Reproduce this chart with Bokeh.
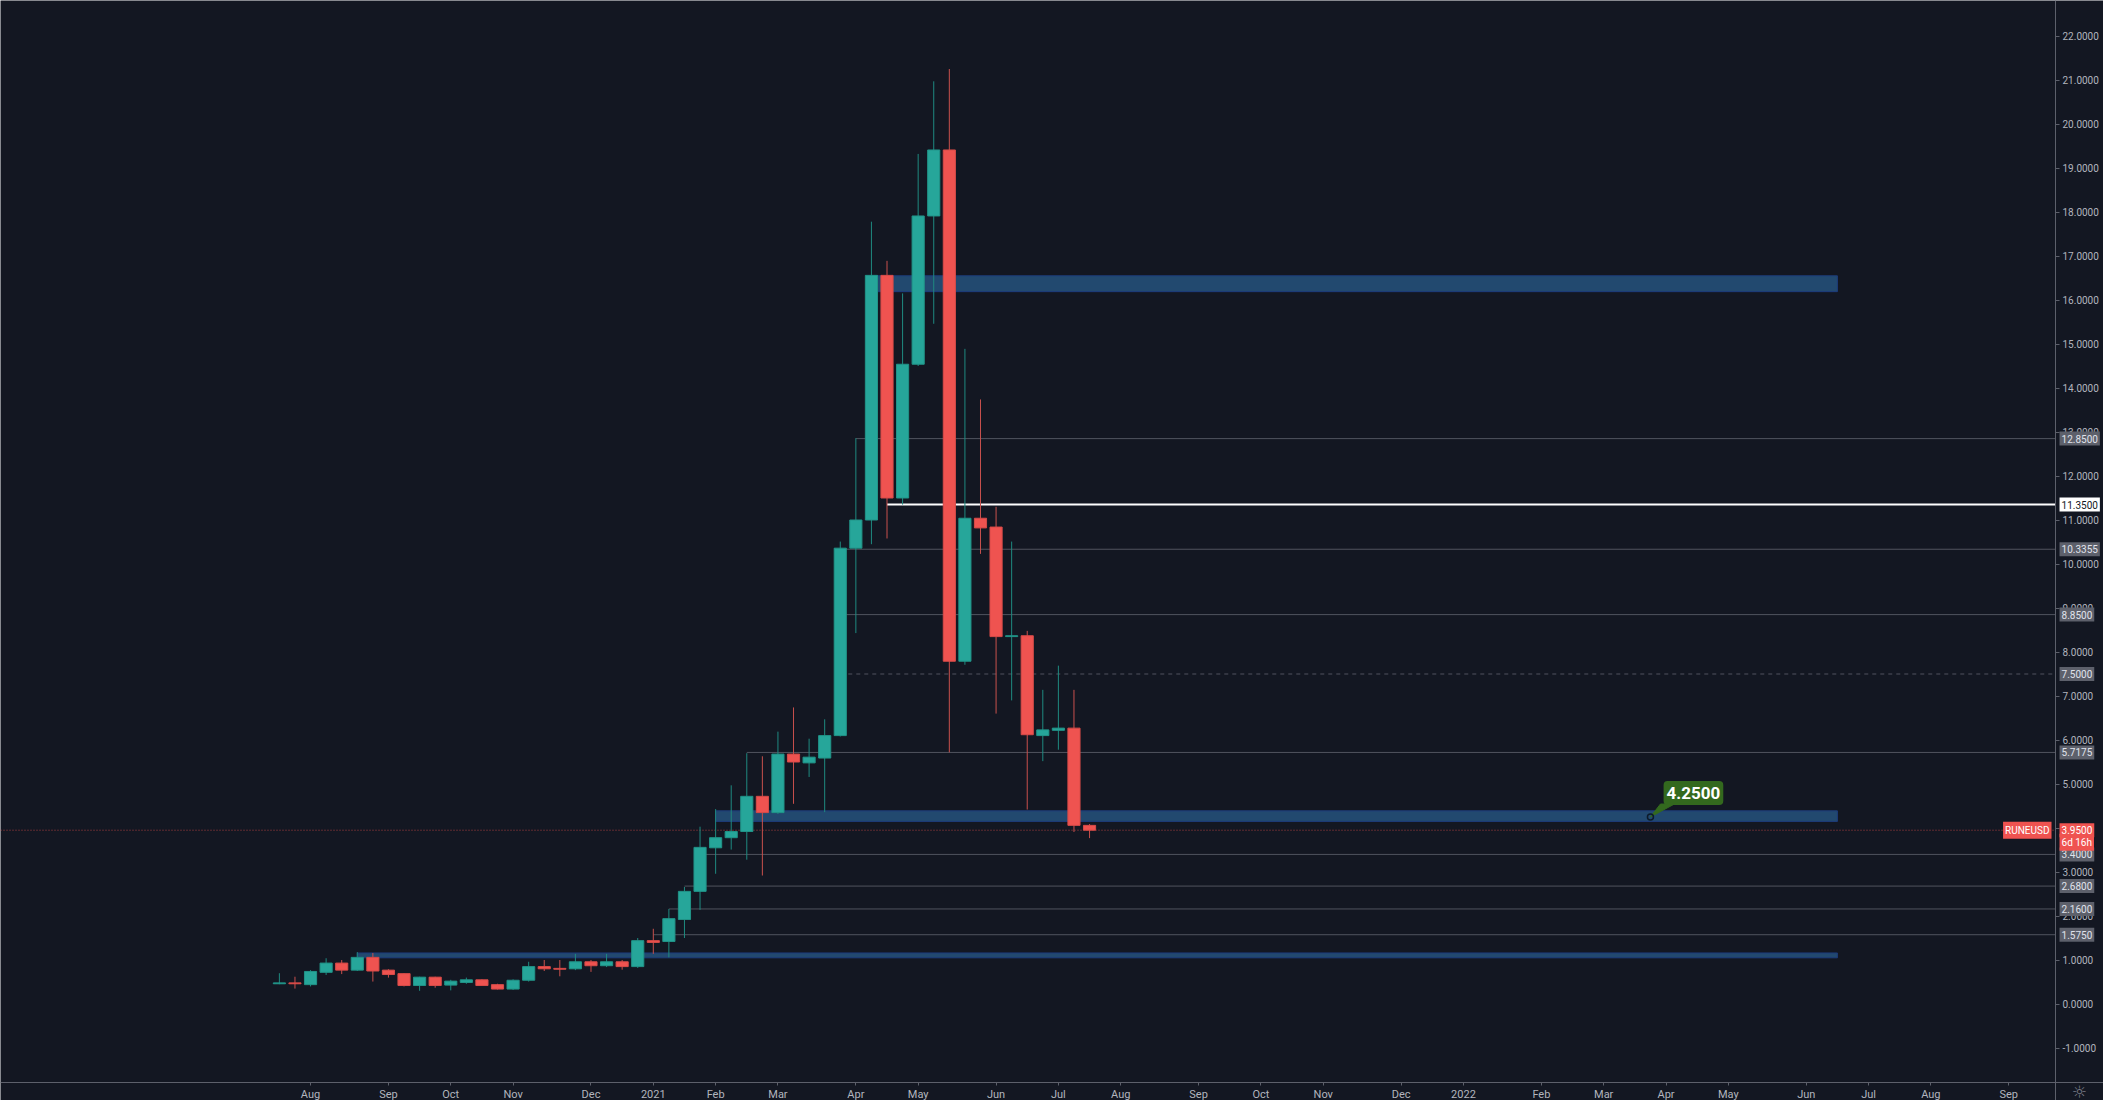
import pandas as pd
from bokeh.plotting import figure
from bokeh.models import (ColumnDataSource, FixedTicker, NumeralTickFormatter, Label, Range1d,
                          LinearAxis)
from bokeh.embed import file_html
from bokeh.resources import INLINE

# ---------------- data ----------------
first_week = "2020-07-20"
opens = [0.46, 0.48, 0.44, 0.72, 0.93, 0.77, 1.06, 0.77, 0.69, 0.42, 0.61, 0.43, 0.49, 0.55, 0.44,
         0.34, 0.54, 0.85, 0.81, 0.80, 0.96, 0.87, 0.96, 0.85, 1.44, 1.42, 1.92, 2.56, 3.55, 3.78,
         3.92, 4.72, 4.35, 5.68, 5.48, 5.59, 6.10, 10.36, 11.00, 16.56, 11.50, 14.54, 17.91, 19.41,
         7.79, 11.04, 10.84, 8.35, 8.37, 6.10, 6.22, 6.27, 4.06]
highs = [0.70, 0.62, 0.77, 1.04, 1.00, 1.18, 1.16, 0.79, 0.70, 0.62, 0.62, 0.55, 0.60, 0.56, 0.46,
         0.56, 0.96, 1.00, 1.00, 1.14, 1.00, 1.14, 1.00, 1.50, 1.71, 2.16, 2.66, 4.03, 4.43, 4.97,
         5.70, 5.63, 6.19, 6.74, 6.03, 6.47, 10.51, 12.86, 17.78, 16.89, 16.15, 19.32, 20.97, 21.25,
         14.89, 13.74, 11.30, 10.51, 8.48, 7.14, 7.69, 7.14, 4.09]
lows = [0.45, 0.35, 0.40, 0.66, 0.68, 0.75, 0.51, 0.60, 0.40, 0.30, 0.37, 0.31, 0.46, 0.41, 0.33,
        0.32, 0.51, 0.75, 0.63, 0.77, 0.73, 0.84, 0.78, 0.82, 1.14, 1.06, 1.50, 2.14, 2.96, 3.51,
        3.28, 2.92, 4.32, 4.55, 5.16, 4.36, 6.08, 8.43, 10.45, 10.58, 11.35, 14.50, 15.46, 5.72,
        7.71, 10.23, 6.60, 6.90, 4.42, 5.52, 5.78, 3.91, 3.77]
closes = [0.48, 0.46, 0.74, 0.93, 0.77, 1.06, 0.75, 0.67, 0.42, 0.61, 0.42, 0.52, 0.55, 0.42, 0.34,
          0.54, 0.85, 0.80, 0.79, 0.96, 0.87, 0.96, 0.85, 1.44, 1.40, 1.94, 2.56, 3.56, 3.78, 3.92,
          4.72, 4.35, 5.68, 5.50, 5.61, 6.10, 10.36, 11.00, 16.56, 11.50, 14.54, 17.91, 19.41, 7.79,
          11.04, 10.82, 8.35, 8.37, 6.12, 6.23, 6.27, 4.06, 3.95]

# horizontal levels (price, start date)
level_prices = [12.85, 10.3355, 8.85, 5.7175, 3.40, 2.68, 2.16, 1.575]
level_starts = ["2021-04-05", "2021-03-29", "2021-03-29", "2021-02-15",
                "2021-01-25", "2021-01-18", "2021-01-11", "2021-01-04"]
key_level_price = 11.35
key_level_start = "2021-04-19"
dashed_level_price = 7.50
dashed_level_start = "2021-03-29"

# zones
zone_bottoms = [16.19, 4.15, 1.05]
zone_tops = [16.55, 4.39, 1.16]
zone_starts = ["2021-04-12", "2021-02-01", "2020-08-24"]
zone_end = "2022-06-20"

# current price / symbol
symbol = "RUNEUSD"
last_price = 3.95
bar_timer = "6d 16h"

# callout
callout_price = 4.25
callout_date = "2022-03-28"

# x-axis tick labels (first weekly bar of each month)
tick_months = pd.date_range("2020-08-01", "2022-09-01", freq="MS")
tick_labels = ["Aug", "Sep", "Oct", "Nov", "Dec", "2021", "Feb", "Mar", "Apr", "May", "Jun", "Jul",
               "Aug", "Sep", "Oct", "Nov", "Dec", "2022", "Feb", "Mar", "Apr", "May", "Jun", "Jul",
               "Aug", "Sep"]
y_ticks = list(range(-1, 23))

# ---------------- helpers ----------------
t0 = pd.Timestamp(first_week)


def widx(d):
    return (pd.Timestamp(d) - t0).days / 7.0


BG = "#131722"
UP, DOWN = "#26a69a", "#ef5350"
UP_WICK, DOWN_WICK = "#1f8a80", "#c9504d"
UP_EDGE, DOWN_EDGE = "#219488", "#d84b48"
GRAY_TXT = "#b2b5be"
AXIS = "#5d606b"

W, H = 2103, 1100
X0, X1 = -17.9, 117.08        # full canvas width
XS = 114.0                    # price scale position
Y0, Y1 = -2.193, 22.807       # full canvas height
YS = -1.784                   # time scale position

p = figure(width=W, height=H, x_range=Range1d(X0, X1), y_range=Range1d(Y0, Y1),
           y_axis_location=None, output_backend="svg", toolbar_location=None,
           background_fill_color=BG, border_fill_color=BG,
           min_border_left=0, min_border_top=0, min_border_right=0, min_border_bottom=0)
p.outline_line_color = None
p.grid.visible = False

# zones
p.quad(left=[widx(d) for d in zone_starts], right=[widx(zone_end)] * len(zone_starts),
       bottom=zone_bottoms, top=zone_tops, fill_color="#22496f", line_color="#1d3c7c", line_width=1)

# levels
lx = [widx(d) for d in level_starts]
p.segment(x0=lx, x1=[XS] * len(lx), y0=level_prices, y1=level_prices,
          line_color="#50535e", line_width=1)
p.segment(x0=[widx(dashed_level_start)], x1=[XS], y0=[dashed_level_price], y1=[dashed_level_price],
          line_color="#50535e", line_width=1, line_dash="4 4")
p.segment(x0=[widx(key_level_start)], x1=[XS], y0=[key_level_price], y1=[key_level_price],
          line_color="#ffffff", line_width=2)

# current price line
p.segment(x0=[X0], x1=[XS], y0=[last_price], y1=[last_price], line_color=DOWN, line_alpha=0.7,
          line_width=1, line_dash="1 2")

# candles
xs = [float(i) for i in range(len(opens))]
up = [c >= o for o, c in zip(opens, closes)]
src = ColumnDataSource(dict(
    x=xs, high=highs, low=lows,
    top=[max(o, c) for o, c in zip(opens, closes)],
    bottom=[min(o, c) for o, c in zip(opens, closes)],
    fill=[UP if u else DOWN for u in up],
    edge=[UP_EDGE if u else DOWN_EDGE for u in up],
    wick=[UP_WICK if u else DOWN_WICK for u in up],
))
p.segment(x0="x", x1="x", y0="low", y1="high", line_color="wick", line_width=1, source=src)
p.vbar(x="x", width=0.78, top="top", bottom="bottom", fill_color="fill", line_color="edge",
       line_width=1, source=src)

# callout
cx, cy = widx(callout_date), callout_price
dxp, dyp = (X1 - X0) / W, (Y1 - Y0) / H
p.patch([cx, cx + 10 * dxp, cx + 24 * dxp], [cy, cy + 13 * dyp, cy + 13 * dyp],
        fill_color="#33691e", line_color="#33691e")
p.scatter([cx], [cy], size=6, marker="circle", fill_color=None, line_color="#0d1a2a", line_width=1.5)
p.add_layout(Label(x=cx, y=cy, x_offset=43, y_offset=24, text=f"{callout_price:.4f}",
                   text_align="center", text_baseline="middle", text_color="#ffffff",
                   text_font="Roboto", text_font_size="17px", text_font_style="bold",
                   background_fill_color="#33691e", border_radius=4, padding=(3, 6)))

# price scale (axis fixed inside the frame)
yax = LinearAxis(fixed_location=XS, ticker=FixedTicker(ticks=y_ticks),
                 formatter=NumeralTickFormatter(format="0.0000"))
p.add_layout(yax, "right")
p.xaxis.fixed_location = YS

for ax in (p.xaxis[0], yax):
    ax.axis_line_color = AXIS
    ax.major_tick_line_color = AXIS
    ax.major_tick_in = 0
    ax.major_tick_out = 4
    ax.minor_tick_line_color = None
    ax.major_label_text_color = GRAY_TXT
    ax.major_label_text_font = "Roboto"
yax.major_label_text_font_size = "10px"
yax.major_label_standoff = 3
p.xaxis.major_label_text_font_size = "11px"

tick_pos = []
for m in tick_months:
    d = m + pd.Timedelta(days=(7 - m.weekday()) % 7)
    tick_pos.append(int(round(widx(d))))
p.xaxis.ticker = FixedTicker(ticks=tick_pos)
p.xaxis.major_label_overrides = {tp: lab for tp, lab in zip(tick_pos, tick_labels)}
p.xaxis.major_label_standoff = 2
p.xaxis.major_tick_out = 3


def tag(price, text, bg, fg, yoff=0):
    p.add_layout(Label(x=XS, y=price, x_offset=4, y_offset=yoff,
                       text=text, text_align="left", text_baseline="middle", text_color=fg,
                       text_font="Roboto", text_font_size="10px", background_fill_color=bg,
                       padding=(2, 3)))


for lp in level_prices + [dashed_level_price]:
    tag(lp, f"{lp:.4f}", "#5d606b", "#e0e3eb")
tag(key_level_price, f"{key_level_price:.4f}", "#ffffff", "#131722")
tag(last_price, bar_timer, DOWN, "#ffffff", yoff=-12)
tag(last_price, f"{last_price:.4f}", DOWN, "#ffffff")
p.add_layout(Label(x=XS, y=last_price, x_offset=-4, text=symbol, text_align="right",
                   text_baseline="middle", text_color="#ffffff", text_font="Roboto",
                   text_font_size="10px", background_fill_color=DOWN, padding=(2, 3)))

# settings glyph in the scale corner
p.add_layout(Label(x=XS, y=Y0, x_offset=24, y_offset=9, text="\u263c", text_align="center",
                   text_baseline="middle", text_color="#787b86", text_font="DejaVu Sans",
                   text_font_size="17px"))

open("out.html", "w").write(file_html(p, INLINE))
